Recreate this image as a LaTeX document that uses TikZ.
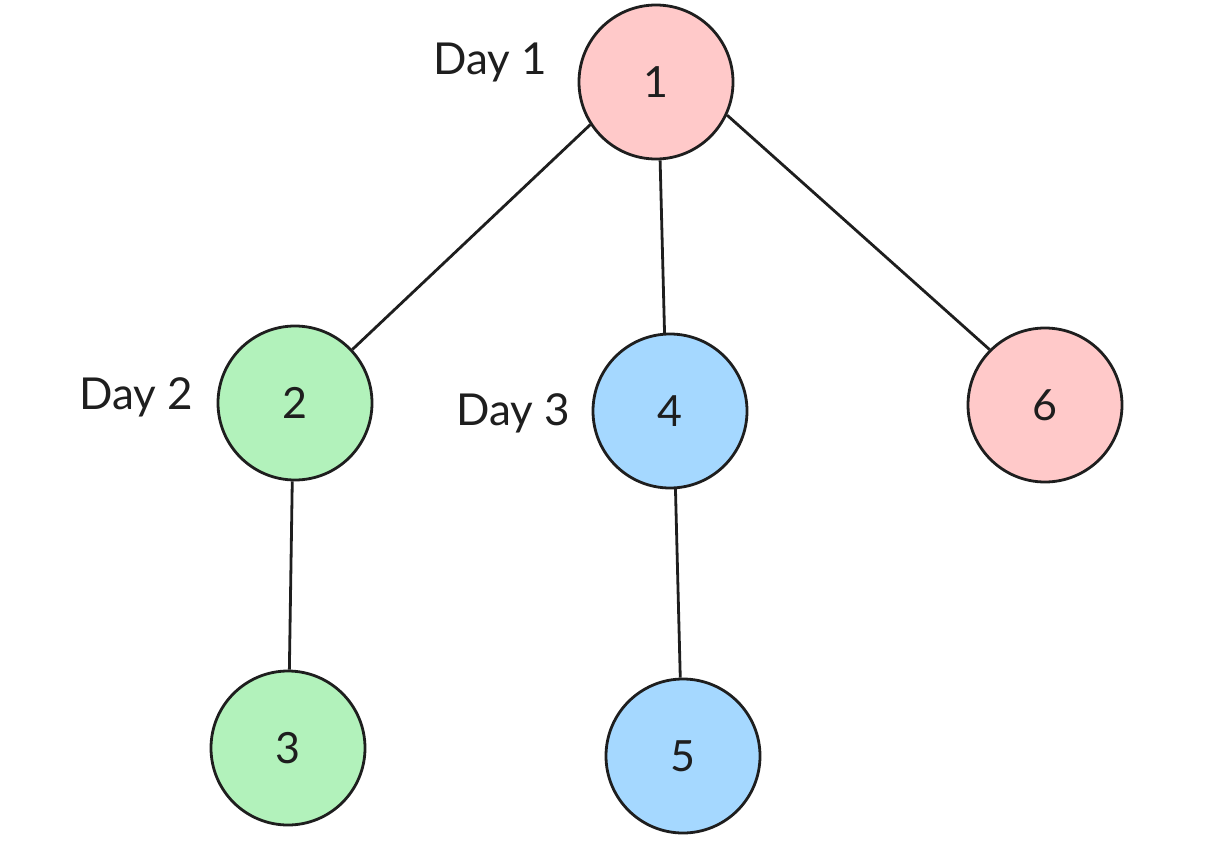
\documentclass[tikz,border=0pt]{standalone}
\usepackage{fontspec}
\setmainfont{Lato}
\definecolor{pinkf}{HTML}{FFC9C9}
\definecolor{greenf}{HTML}{B2F2BB}
\definecolor{bluef}{HTML}{A5D8FF}
\definecolor{ink}{HTML}{1E1E1E}
\begin{document}
\begin{tikzpicture}[x=1pt,y=-1pt,
  vtx/.style={circle,draw=ink,line width=2.8pt,minimum size=154pt,inner sep=0pt,font=\fontsize{43}{50}\selectfont,text=ink},
  lbl/.style={anchor=base,font=\fontsize{44}{52}\selectfont,text=ink},
  edge/.style={draw=ink,line width=2.8pt}]
\useasboundingbox (0,0) rectangle (1209,848);
\node[vtx,fill=pinkf] (n1) at (656,82) {1};
\node[vtx,fill=greenf] (n2) at (295,403) {2};
\node[vtx,fill=greenf] (n3) at (288,748) {3};
\node[vtx,fill=bluef] (n4) at (670,411) {4};
\node[vtx,fill=bluef] (n5) at (683,756) {5};
\node[vtx,fill=pinkf] (n6) at (1045,405) {6};
\node[lbl] (d1) at (490,75) {Day 1};
\node[lbl] (d2) at (136,409) {Day 2};
\node[lbl] (d3) at (513,425) {Day 3};
\draw[edge] (n1.213) -- (n2.43);
\draw[edge] (n1.273) -- (n4.94);
\draw[edge] (n1.335) -- (n6.135);
\draw[edge] (n2.268) -- (n3.89);
\draw[edge] (n4.274) -- (n5.92);
\end{tikzpicture}
\end{document}
